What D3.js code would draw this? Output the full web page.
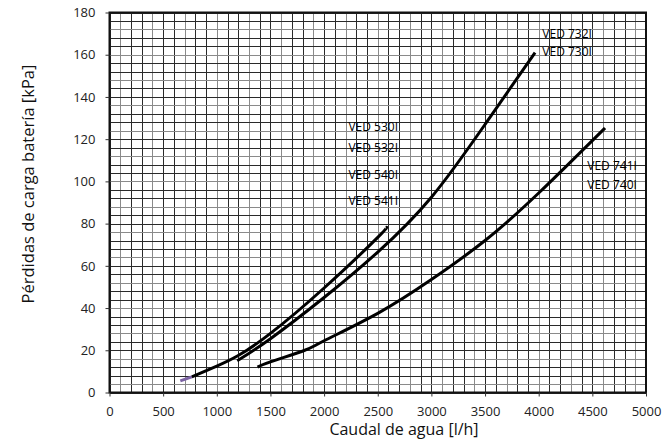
<!DOCTYPE html>
<html>
<head>
<meta charset="utf-8">
<script src="https://cdn.jsdelivr.net/npm/d3@7"></script>
<style>
  body { margin: 0; background: #fff; }
  svg { font-family: "Open Sans", sans-serif; }
</style>
</head>
<body>
<div id="chart"></div>
<script>
// values: [caudal l/h, pérdidas kPa]
const xTicks = [0, 500, 1000, 1500, 2000, 2500, 3000, 3500, 4000, 4500, 5000];
const yTicks = [0, 20, 40, 60, 80, 100, 120, 140, 160, 180];

const ved500 = [[767, 7.4], [1000, 12.5], [1200, 17.5], [1500, 28], [2000, 49.5], [2500, 73.5], [2575, 78.2]];
const ved500Start = [[660, 5.5], [767, 7.4]];
const ved730 = [[1190, 15], [1500, 25.5], [2000, 45], [2500, 66.5], [3000, 92.5], [3500, 127], [3966, 161]];
const ved740 = [[1380, 12], [1500, 14.5], [1820, 20], [2000, 24.5], [2500, 37.5], [3000, 53.5], [3500, 72], [4000, 94.5], [4618, 125.3]];

const labelNames = ["VED 530I", "VED 532I", "VED 540I", "VED 541I", "VED 732I", "VED 730I", "VED 741I", "VED 740I"];
const labelAt = [[2227, 123.8], [2227, 113.7], [2227, 100.9], [2227, 88.7], [4034, 168], [4034, 159.6], [4453, 105.3], [4453, 96.4]];

const width = 662, height = 445;

const svg = d3.select("#chart").append("svg")
    .attr("width", width)
    .attr("height", height);

const x = d3.scaleLinear().domain([0, 5000]).range([109.5, 646]);
const y = d3.scaleLinear().domain([0, 180]).range([392.5, 12.5]);

// grid: every 100 l/h and every 4 kPa
const grid = svg.append("g").attr("shape-rendering", "crispEdges");
grid.selectAll(".vg")
    .data(d3.range(0, 5001, 100))
    .enter()
    .append("line")
    .attr("x1", d => Math.round(x(d)) + 0.5)
    .attr("x2", d => Math.round(x(d)) + 0.5)
    .attr("y1", y(180))
    .attr("y2", y(0))
    .style("stroke", (d, i) => i % 3 === 1 ? "#8a8a8a" : "#2a2a2a");
grid.selectAll(".hg")
    .data(d3.range(0, 181, 4))
    .enter()
    .append("line")
    .attr("y1", d => Math.round(y(d)) + 0.5)
    .attr("y2", d => Math.round(y(d)) + 0.5)
    .attr("x1", x(0))
    .attr("x2", x(5000))
    .style("stroke", (d, i) => i % 3 === 1 ? "#8a8a8a" : "#2a2a2a");

// curves
const line = d3.line()
    .x(d => x(d[0]))
    .y(d => y(d[1]))
    .curve(d3.curveNatural);

[ved500, ved730, ved740].forEach(s => {
    svg.append("path")
        .attr("d", line(s))
        .style("fill", "none")
        .style("stroke", "#000")
        .style("stroke-width", 3);
});
svg.append("path")
    .attr("d", line(ved500Start))
    .style("fill", "none")
    .style("stroke", "#7b62a3")
    .style("stroke-width", 3);

// frame
svg.append("rect")
    .attr("x", x(0))
    .attr("y", y(180))
    .attr("width", x(5000) - x(0))
    .attr("height", y(0) - y(180))
    .style("fill", "none")
    .style("stroke", "#111")
    .style("stroke-width", 2);

// axes
const yAxis = svg.append("g")
    .attr("transform", `translate(${x(0)},0)`)
    .call(d3.axisLeft(y).tickValues(yTicks).tickSize(4).tickPadding(10));
const xAxis = svg.append("g")
    .attr("transform", `translate(0,${y(0)})`)
    .call(d3.axisBottom(x).tickValues(xTicks).tickSize(4).tickPadding(10).tickFormat(d3.format("d")));

[yAxis, xAxis].forEach(a => {
    a.select(".domain").remove();
    a.selectAll("line").style("stroke", "#333");
    a.selectAll("text")
        .style("font-family", "'Open Sans', sans-serif")
        .style("font-size", "13px")
        .style("fill", "#222");
});

// series labels
svg.selectAll(".lbl")
    .data(labelNames)
    .enter()
    .append("text")
    .attr("x", (d, i) => x(labelAt[i][0]))
    .attr("y", (d, i) => y(labelAt[i][1]))
    .style("font-size", "12px")
    .style("fill", "#000")
    .text(d => d);

// axis titles
svg.append("text")
    .attr("x", 404)
    .attr("y", 435)
    .attr("text-anchor", "middle")
    .style("font-size", "16px")
    .style("fill", "#111")
    .text("Caudal de agua [l/h]");

svg.append("text")
    .attr("transform", "translate(34,184) rotate(-90)")
    .attr("text-anchor", "middle")
    .style("font-size", "16.5px")
    .style("fill", "#111")
    .text("Pérdidas de carga batería [kPa]");
</script>
</body>
</html>
